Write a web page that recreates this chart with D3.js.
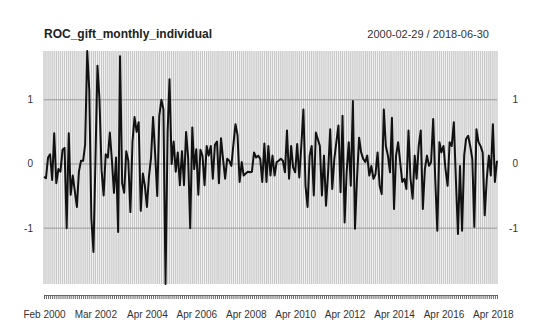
<!DOCTYPE html>
<html>
<head>
<meta charset="utf-8">
<script src="https://cdn.jsdelivr.net/npm/d3@7"></script>
<style>
  body { margin: 0; background: #fff; }
  svg { display: block; font-family: "Liberation Sans", Arial, sans-serif; }
</style>
</head>
<body>
<svg id="svg" width="542" height="336"></svg>
<script>
// data: one value per month, Feb 2000 .. Jun 2018
const values = [
  -0.20, -0.22, 0.10, 0.15, -0.25, 0.48, -0.30, -0.08, -0.12, 0.22,
  0.25, -1.00, 0.48, -0.48, -0.18, -0.42, -0.67, -0.12, 0.05, 0.05,
  0.30, 1.76, 1.15, -0.85, -1.37, 0.00, 1.53, 1.00, -0.10, -0.49,
  0.15, 0.10, 0.49, 0.05, -0.45, 0.10, -1.06, 1.68, -0.30, -0.45,
  0.20, 0.05, -0.75, 0.35, 0.73, 0.50, 0.65, -0.73, -0.15, -0.33,
  -0.67, -0.20, 0.10, 0.73, 0.15, -0.50, 0.75, 1.00, 0.85, -1.87,
  0.50, 1.32, 0.00, 0.35, -0.12, 0.18, -0.33, 0.20, -0.33, 0.50,
  0.10, -1.00, 0.57, -0.08, 0.23, -0.48, 0.22, 0.13, -0.33, 0.28,
  0.13, 0.28, -0.23, 0.30, 0.35, -0.30, 0.40, 0.08, -0.23, 0.08,
  0.05, -0.03, 0.30, 0.62, 0.45, -0.28, 0.03, -0.18, -0.15, -0.12,
  -0.13, -0.12, 0.18, 0.10, 0.13, 0.08, -0.28, 0.32, -0.28, 0.28,
  -0.18, 0.13, -0.18, 0.03, 0.05, 0.08, 0.05, -0.13, 0.52, -0.23,
  0.28, -0.05, -0.13, 0.31, -0.21, 0.28, 0.85, -0.34, -0.67, 0.13,
  0.28, -0.49, 0.49, 0.39, 0.28, -0.49, 0.13, -0.65, -0.13, 0.54,
  -0.39, 0.08, 0.34, 0.60, -0.44, 0.75, -0.91, -0.13, 0.34, -0.34,
  0.98, -1.01, -0.23, 0.41, 0.18, 0.08, 0.03, 0.13, -0.18, -0.03,
  -0.23, -0.16, 0.18, -0.34, -0.47, 0.85, 0.28, 0.13, -0.13, 0.72,
  -0.70, 0.13, 0.34, 0.03, -0.28, -0.23, -0.39, 0.52, -0.23, -0.54,
  0.13, -0.23, 0.28, 0.52, -0.70, -0.08, 0.13, -0.03, 0.03, 0.70,
  -0.23, -1.04, 0.34, 0.18, 0.28, -0.08, -0.34, 0.34, 0.28, 0.65,
  -0.23, -1.09, -0.03, -1.04, 0.13, 0.39, 0.44, 0.28, 0.08, -0.98,
  0.54, 0.34, 0.28, 0.18, -0.80, -0.23, 0.13, -0.18, 0.62, -0.28,
  0.05
];
const yTicks = [-1, 0, 1];
const tickLabels = ['Feb 2000', 'Mar 2002', 'Apr 2004', 'Apr 2006', 'Apr 2008',
                    'Apr 2010', 'Apr 2012', 'Apr 2014', 'Apr 2016', 'Apr 2018'];
const title = 'ROC_gift_monthly_individual';
const rangeText = '2000-02-29 / 2018-06-30';

// plot box
const box = {left: 44, right: 497, top: 51, bottom: 284};

const months = d3.utcMonths(new Date(Date.UTC(2000, 1, 1)), new Date(Date.UTC(2018, 6, 1)));
const series = months.map((d, i) => ({date: d, v: values[i]}));

const svg = d3.select('#svg');

const x = d3.scaleUtc().domain(d3.extent(months)).range([box.left, box.right]);
const y = d3.scaleLinear().domain(d3.extent(values)).range([box.bottom, box.top]);

// background + monthly vertical grid
svg.append('rect')
  .attr('x', box.left).attr('y', box.top)
  .attr('width', box.right - box.left).attr('height', box.bottom - box.top)
  .attr('fill', '#fff');

svg.append('g').selectAll('line')
  .data(months).join('line')
    .attr('x1', d => x(d)).attr('x2', d => x(d))
    .attr('y1', box.top).attr('y2', box.bottom)
    .attr('stroke', '#c8c8c8').attr('stroke-width', 1.35);

// horizontal grid
svg.append('g').selectAll('line')
  .data(yTicks).join('line')
    .attr('x1', box.left).attr('x2', box.right)
    .attr('y1', d => y(d)).attr('y2', d => y(d))
    .attr('stroke', '#999').attr('stroke-width', 1);

// y labels, both sides
const yl = svg.append('g').attr('font-size', 10).attr('fill', '#333');
yl.selectAll('text.l').data(yTicks).join('text').attr('class', 'l')
  .attr('x', 33).attr('y', d => y(d)).attr('dy', '0.35em')
  .attr('text-anchor', 'end').text(d => d);
yl.selectAll('text.r').data(yTicks).join('text').attr('class', 'r')
  .attr('x', 518).attr('y', d => y(d)).attr('dy', '0.35em')
  .attr('text-anchor', 'end').text(d => d);

// the series
const line = d3.line().x(d => x(d.date)).y(d => y(d.v));
svg.append('path')
  .datum(series)
  .attr('d', line)
  .attr('fill', 'none')
  .attr('stroke', '#111')
  .attr('stroke-width', 2)
  .attr('stroke-linejoin', 'round');

// monthly tick strip
const tickAxis = svg.append('g')
  .attr('transform', 'translate(0,295)')
  .call(d3.axisBottom(x).tickValues(months).tickSize(4).tickSizeOuter(0).tickFormat(''));
tickAxis.select('.domain').attr('stroke', '#666');
tickAxis.selectAll('.tick line').attr('stroke', '#666');

// date labels
const parse = d3.utcParse('%b %Y');
const labAxis = svg.append('g')
  .attr('transform', 'translate(0,308)')
  .call(d3.axisBottom(x).tickValues(tickLabels.map(parse)).tickSize(0)
        .tickFormat(d3.utcFormat('%b %Y')));
labAxis.select('.domain').remove();
labAxis.selectAll('text')
  .attr('font-family', '"Liberation Sans", Arial, sans-serif')
  .attr('font-size', 10).attr('fill', '#333');

// header
svg.append('text')
  .attr('x', box.left).attr('y', 38)
  .attr('font-size', 12).attr('font-weight', 'bold').attr('fill', '#222')
  .text(title);
svg.append('text')
  .attr('x', 489).attr('y', 38)
  .attr('text-anchor', 'end')
  .attr('font-size', 11).attr('fill', '#333')
  .text(rangeText);
</script>
</body>
</html>
